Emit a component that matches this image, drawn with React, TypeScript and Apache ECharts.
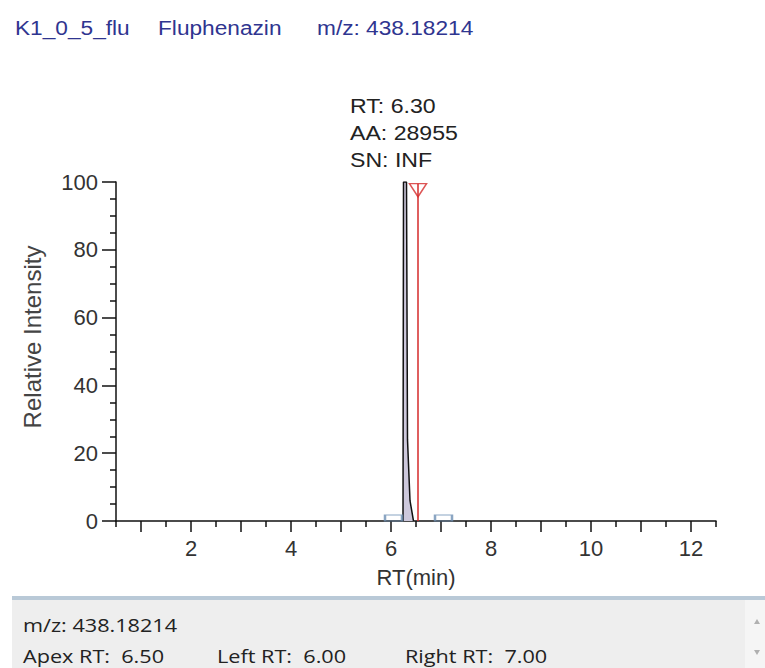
import React, { useEffect, useRef } from "react";
import * as echarts from "echarts";

// ---- data ----
const titleParts = ["K1_0_5_flu", "Fluphenazin", "m/z: 438.18214"];
const peakRT = [6.24, 6.25, 6.31, 6.33, 6.38, 6.45];
const peakIntensity = [0, 100, 100, 24, 6, 0];
const apexRT = 6.54;
const apexTop = 99.5;
const boundaryRT = [6.05, 7.05];
const annotationLines = ["RT: 6.30", "AA: 28955", "SN: INF"];
const infoLine1 = "m/z: 438.18214";
const infoLine2 = ["Apex RT:  6.50", "Left RT:  6.00", "Right RT:  7.00"];
const xMajorTicks = [1, 2, 3, 4, 5, 6, 7, 8, 9, 10, 11, 12];
const xLabelTicks = [2, 4, 6, 8, 10, 12];
const xMinorTicks = [0.5, 1.5, 2.5, 3.5, 4.5, 5.5, 6.5, 7.5, 8.5, 9.5, 10.5, 11.5, 12.5];

const FONT = "'Liberation Sans', Arial, sans-serif";
const UIFONT = "'Open Sans', 'Noto Sans', sans-serif";

export default function App() {
  const ref = useRef<HTMLDivElement>(null);
  useEffect(() => {
    document.body.style.margin = "0";
    const chart = echarts.init(ref.current!, null, { renderer: "svg" });
    const titleX = [15, 158, 317];
    const infoX = [23, 217, 405];
    const option: any = {
      animation: false,
      backgroundColor: "#ffffff",
      grid: { left: 116, top: 182, width: 600, height: 339, containLabel: false },
      xAxis: [
        {
          type: "value",
          min: 0.5,
          max: 12.5,
          position: "bottom",
          axisLine: { show: true, onZero: false, lineStyle: { color: "#111", width: 1.5 } },
          axisTick: { show: true, customValues: xMajorTicks, length: 11, lineStyle: { color: "#111", width: 1.5 } },
          axisLabel: { customValues: xLabelTicks, margin: 16, fontSize: 22, color: "#333", fontFamily: FONT },
          splitLine: { show: false },
          name: "RT(min)",
          nameLocation: "middle",
          nameGap: 45,
          nameTextStyle: { fontSize: 22, color: "#333", fontFamily: FONT },
        },
        {
          type: "value",
          min: 0.5,
          max: 12.5,
          position: "bottom",
          axisLine: { show: false, onZero: false },
          axisTick: { show: true, customValues: xMinorTicks, length: 6, lineStyle: { color: "#111", width: 1.5 } },
          axisLabel: { show: false },
          splitLine: { show: false },
        },
      ],
      yAxis: {
        type: "value",
        min: 0,
        max: 100,
        interval: 20,
        axisLine: { show: true, lineStyle: { color: "#111", width: 1.5 } },
        axisTick: { show: true, length: 14, lineStyle: { color: "#111", width: 1.5 } },
        minorTick: { show: true, splitNumber: 4, length: 6, lineStyle: { color: "#111", width: 1.5 } },
        axisLabel: { margin: 18, fontSize: 22, color: "#333", fontFamily: FONT },
        splitLine: { show: false },
      },
      series: [
        {
          type: "line",
          data: peakRT.map((x, i) => [x, peakIntensity[i]]),
          symbol: "none",
          lineStyle: { color: "#111", width: 1.5 },
          areaStyle: { color: "#cdc8dc", opacity: 1 },
          z: 3,
        },
        {
          type: "line",
          data: [[apexRT, 0], [apexRT, apexTop]],
          symbol: "none",
          lineStyle: { color: "#d42a2a", width: 1.5 },
          z: 4,
        },
        {
          type: "scatter",
          data: [[apexRT, apexTop]],
          symbol: "path://M0,0L16,0L8,12Z",
          symbolSize: [17, 13],
          symbolOffset: [0, 6.5],
          itemStyle: { color: "rgba(0,0,0,0)", borderColor: "#d42a2a", borderWidth: 1.5 },
          z: 5,
        },
        {
          type: "scatter",
          data: boundaryRT.map((x) => [x, 0]),
          symbol: "rect",
          symbolSize: [17, 6],
          symbolOffset: [0, -3],
          itemStyle: { color: "rgba(0,0,0,0)", borderColor: "#6d8fb3", borderWidth: 1.5 },
          z: 5,
        },
      ],
      graphic: [
        ...titleParts.map((t, i) => ({
          type: "text",
          x: titleX[i],
          y: 28,
          scaleX: 1.08,
          style: { text: t, fontSize: 21, fill: "#2f3590", fontFamily: FONT, verticalAlign: "middle", align: "left" },
        })),
        ...annotationLines.map((t, i) => ({
          type: "text",
          x: 350,
          y: 106 + i * 27,
          scaleX: 1.1,
          style: { text: t, fontSize: 21, fill: "#222", fontFamily: FONT, verticalAlign: "middle", align: "left" },
        })),
        {
          type: "text",
          x: 32,
          y: 337,
          rotation: Math.PI / 2,
          style: { text: "Relative Intensity", fontSize: 24, fill: "#444", fontFamily: FONT, verticalAlign: "middle", align: "center" },
        },
        { type: "rect", shape: { x: 12, y: 596, width: 753, height: 4 }, style: { fill: "#b9c9d7" } },
        { type: "rect", shape: { x: 12, y: 600, width: 753, height: 68 }, style: { fill: "#eeeeee" } },
        { type: "rect", shape: { x: 745, y: 600, width: 20, height: 68 }, style: { fill: "#f5f5f5" } },
        { type: "polygon", shape: { points: [[754, 624], [760, 624], [757, 619]] }, style: { fill: "#b0b0b0" } },
        { type: "polygon", shape: { points: [[754, 650], [760, 650], [757, 655]] }, style: { fill: "#b0b0b0" } },
        {
          type: "text",
          x: infoX[0],
          y: 625,
          scaleX: 1.14,
          style: { text: infoLine1, fontSize: 19, fill: "#222", fontFamily: UIFONT, verticalAlign: "middle", align: "left" },
        },
        ...infoLine2.map((t, i) => ({
          type: "text",
          x: infoX[i],
          y: 656,
          scaleX: 1.14,
          style: { text: t, fontSize: 19, fill: "#222", fontFamily: UIFONT, verticalAlign: "middle", align: "left" },
        })),
      ],
    };
    chart.setOption(option);
    return () => chart.dispose();
  }, []);
  return <div ref={ref} style={{ position: "fixed", left: 0, top: 0, width: 765, height: 668 }} />;
}
